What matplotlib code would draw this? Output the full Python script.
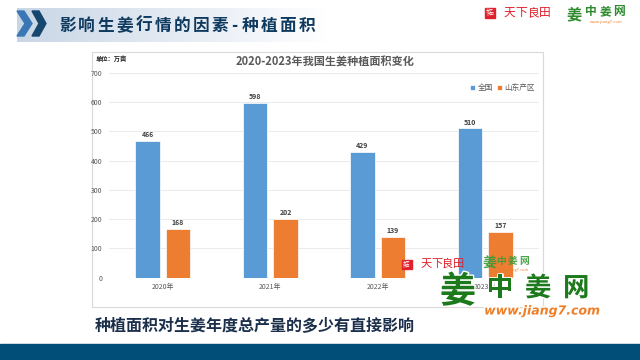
import numpy as np
import matplotlib
matplotlib.use("Agg")
import matplotlib.pyplot as plt
from matplotlib.patches import Rectangle, Polygon
from matplotlib.colors import to_rgb
import matplotlib.patheffects as pe

plt.rcParams['font.family'] = ['Noto Sans CJK SC', 'DejaVu Sans']

# ---------------- data ----------------
years = ["2020年", "2021年", "2022年", "2023年"]
national = [466, 598, 429, 510]
shandong = [168, 202, 139, 157]
series_names = ["全国", "山东产区"]
yticks = [0, 100, 200, 300, 400, 500, 600, 700]
chart_title = "2020-2023年我国生姜种植面积变化"
unit_label = "单位：万亩"
slide_title = "影响生姜行情的因素-种植面积"
caption = "种植面积对生姜年度总产量的多少有直接影响"

W, H = 640, 360
fig = plt.figure(figsize=(6.4, 3.6), dpi=100)
fig.patch.set_facecolor("white")

# background overlay axes in pixel coords (y down)
bg = fig.add_axes([0, 0, 1, 1], zorder=0)
bg.set_xlim(0, W); bg.set_ylim(H, 0); bg.axis("off")

# gradient title band
c0 = np.array(to_rgb("#C9D6E6")); c1 = np.array([1.0, 1.0, 1.0])
t = np.linspace(0, 1, 256)[None, :, None]
grad = c0 * (1 - t) + c1 * t
bg.imshow(grad, extent=(17, 330, 42, 8), aspect="auto", zorder=1)

def chevron(x0, w, thick, top, bot, color):
    mid = (top + bot) / 2
    pts = [(x0, top), (x0 + thick, top), (x0 + w, mid),
           (x0 + thick, bot), (x0, bot), (x0 + w - thick, mid)]
    bg.add_patch(Polygon(pts, closed=True, color=color, zorder=2))

chevron(17, 15, 7, 11, 36, "#3A78B5")
chevron(32, 14, 7, 11, 36, "#16456E")

def spaced(axx, x, y, s, size, adv, **kw):
    for i, ch in enumerate(s):
        step = adv * (0.55 if ch in "-" else 1.0)
        axx.text(x, y, ch, fontsize=size, va="center", ha="left", **kw)
        x += step
    return x

spaced(bg, 59, 26, slide_title, 12, 19.1, color="#0E3A60", fontweight="bold", zorder=3)

# bottom band
bg.add_patch(Rectangle((0, 344), W, 16, color="#014F78", zorder=1))

# chart panel
bg.add_patch(Rectangle((92, 52), 451, 255, facecolor="white", edgecolor="#D9D9D9", lw=0.8, zorder=1))

# caption
bg.text(95, 325, caption, fontsize=11.5, fontweight="bold", color="#1B2F4A", va="center", ha="left", zorder=3)

# ---------------- chart ----------------
ax = fig.add_axes([109 / W, (H - 277.7) / H, 430 / W, 205 / H], zorder=5)
ax.set_facecolor("none")
x = np.arange(len(years))
bw = 0.225
off = 0.142
b1 = ax.bar(x - off, national, bw, color="#5B9BD5", edgecolor="white", lw=0.5, label=series_names[0], zorder=3)
b2 = ax.bar(x + off, shandong, bw, color="#ED7D31", edgecolor="white", lw=0.5, label=series_names[1], zorder=3)
ax.bar_label(b1, padding=2, fontsize=5, color="#404040", fontweight="bold")
ax.bar_label(b2, padding=2, fontsize=5, color="#404040", fontweight="bold")
ax.set_xlim(-0.5, len(years) - 0.5)
ax.set_ylim(0, 700)
ax.set_yticks(yticks)
ax.set_yticklabels([str(v) for v in yticks])
ax.set_xticks(x)
ax.set_xticklabels(years)
ax.tick_params(axis="both", length=0, labelsize=5, colors="#595959")
ax.tick_params(axis="y", pad=5)
ax.tick_params(axis="x", pad=4)
for s in ax.spines.values():
    s.set_visible(False)
ax.yaxis.grid(True, color="#E8E8E8", lw=0.6, zorder=0)
ax.set_axisbelow(True)
ax.legend(loc="center", bbox_to_anchor=(0.915, 0.925), ncol=2, frameon=False,
          fontsize=5.5, handlelength=0.7, handleheight=0.7, columnspacing=0.5,
          handletextpad=0.3, labelcolor="#595959")

bg.text(325, 62.5, chart_title, fontsize=8, fontweight="bold", color="#595959", ha="center", va="center", zorder=3)
bg.text(96, 59, unit_label, fontsize=4.5, fontweight="bold", color="#262626", ha="left", va="center", zorder=3)

# ---------------- foreground watermarks / logos ----------------
fg = fig.add_axes([0, 0, 1, 1], zorder=10)
fg.set_xlim(0, W); fg.set_ylim(H, 0); fg.axis("off"); fg.patch.set_alpha(0)

halo = [pe.withStroke(linewidth=2, foreground="white")]

def logo(axx, x, y, scale):
    axx.add_patch(Rectangle((x, y - 4.5 * scale), 10 * scale, 9.5 * scale, color="#E0202A", zorder=5))
    axx.text(x + 5 * scale, y, "天下\n良田", fontsize=2.8 * scale, color="white", ha="center", va="center",
             linespacing=0.9, zorder=6)
    spaced(axx, x + 19 * scale, y, "天下良田", 8.5 * scale, 11.5 * scale, color="#E0202A", zorder=6)

logo(fg, 485, 12.5, 1.0)
fg.text(574, 14, "姜", fontsize=11, color="#2E8B2E", ha="center", va="center", fontweight="bold", zorder=6)
spaced(fg, 585, 11.5, "中姜网", 8.5, 14, color="#2E8B2E", fontweight="bold", zorder=6)
fg.text(606, 22.5, "www.jiang7.com", fontsize=3, color="#F07E26", ha="center", va="center", zorder=6)

logo(fg, 402, 264, 0.95)
fg.text(489, 264, "姜", fontsize=10, color="#3A9A3A", ha="center", va="center", fontweight="bold", zorder=6, alpha=0.9)
spaced(fg, 496, 261, "中姜网", 7, 11.5, color="#3A9A3A", fontweight="bold", zorder=6, alpha=0.9)
fg.text(513, 270, "www.jiang7.com", fontsize=2.8, color="#F07E26", ha="center", va="center", zorder=6)

fg.text(458, 292, "姜", fontsize=26, color="#1C7A1C", ha="center", va="center", fontweight="bold", zorder=6,
        path_effects=halo)
spaced(fg, 487, 288.5, "中姜网", 19, 38, color="#1C7A1C", fontweight="bold", zorder=6, path_effects=halo)
fg.text(542, 311, "www.jiang7.com", fontsize=9, color="#F07E26", ha="center", va="center",
        fontweight="bold", style="italic", family=["DejaVu Sans"], zorder=6, path_effects=halo)

fig.savefig("out.png", dpi=100, facecolor="white")
